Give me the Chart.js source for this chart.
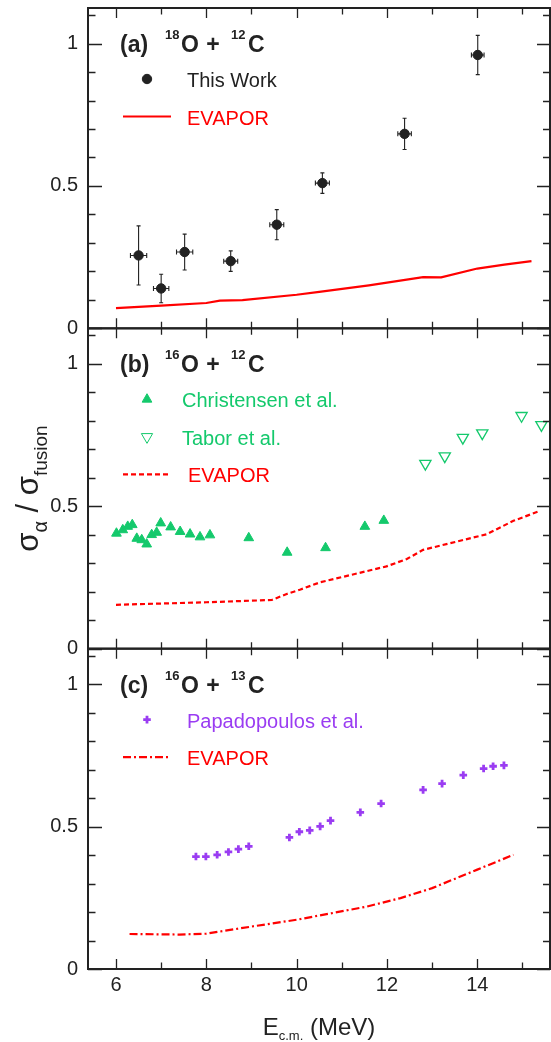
<!DOCTYPE html>
<html>
<head>
<meta charset="utf-8">
<title>alpha / fusion ratio</title>
<script src="https://cdn.jsdelivr.net/npm/chart.js@4.4.1/dist/chart.umd.min.js"></script>
<style>
  html, body { margin: 0; padding: 0; background: #fff; }
</style>
</head>
<body>
<canvas id="chart" width="551" height="1042"></canvas>
<script>
// ---- data ----
// (a) 18O + 12C, this work (with errors)
const aEnergy = [6.50, 7.00, 7.52, 8.54, 9.56, 10.57, 12.39, 14.01];
const aRatio  = [0.256, 0.140, 0.268, 0.236, 0.364, 0.510, 0.683, 0.960];
const aErrY   = [0.104, 0.050, 0.063, 0.036, 0.053, 0.036, 0.055, 0.069];
const aErrX   = [0.18, 0.17, 0.18, 0.155, 0.155, 0.155, 0.15, 0.14];
// (a) EVAPOR
const aCalcE = [6.0, 7.0, 8.0, 8.3, 8.8, 10.0, 10.5, 11.6, 12.8, 13.2, 14.0, 14.6, 15.2];
const aCalc  = [0.071, 0.080, 0.089, 0.097, 0.099, 0.118, 0.128, 0.151, 0.180, 0.179, 0.210, 0.224, 0.236];

// (b) 16O + 12C
const christE = [6.01, 6.15, 6.26, 6.36, 6.46, 6.57, 6.68, 6.79, 6.90, 6.99, 7.21, 7.42, 7.64, 7.86, 8.08, 8.94, 9.79, 10.64, 11.51, 11.93];
const christR = [0.405, 0.417, 0.429, 0.435, 0.387, 0.382, 0.367, 0.400, 0.408, 0.441, 0.427, 0.411, 0.402, 0.392, 0.399, 0.389, 0.338, 0.354, 0.429, 0.450];
const taborE = [12.85, 13.28, 13.68, 14.11, 14.98, 15.42];
const taborR = [0.650, 0.676, 0.741, 0.757, 0.818, 0.786];
const bCalcE = [6.0, 8.0, 9.45, 9.78, 10.07, 10.52, 11.99, 12.44, 12.80, 13.62, 14.21, 14.80, 15.39];
const bCalc  = [0.154, 0.163, 0.171, 0.192, 0.207, 0.233, 0.289, 0.315, 0.347, 0.379, 0.402, 0.449, 0.484];

// (c) 16O + 13C
const papaE = [7.77, 7.99, 8.24, 8.49, 8.71, 8.94, 9.84, 10.06, 10.29, 10.52, 10.75, 11.41, 11.87, 12.80, 13.22, 13.69, 14.14, 14.35, 14.59];
const papaR = [0.395, 0.395, 0.401, 0.411, 0.421, 0.431, 0.462, 0.482, 0.487, 0.501, 0.521, 0.550, 0.581, 0.629, 0.651, 0.681, 0.704, 0.712, 0.715];
const cCalcE = [6.3, 7.4, 8.0, 9.0, 10.0, 11.55, 12.3, 13.0, 14.0, 14.8];
const cCalc  = [0.123, 0.121, 0.124, 0.149, 0.173, 0.219, 0.249, 0.284, 0.349, 0.401];

// ticks
const xTickLabels = [6, 8, 10, 12, 14];
const xTickMarks = [6, 7, 8, 9, 10, 11, 12, 13, 14, 15];
const yTickLabels = [0, 0.5, 1];
const yTickMarks = [0, 0.1, 0.2, 0.3, 0.4, 0.5, 0.6, 0.7, 0.8, 0.9, 1.0, 1.1];

// ---- styles ----
const FONT = '"Liberation Sans", Arial, Helvetica, sans-serif';
const ink = '#222222';
const red = '#ff0000';
const green = '#14c96c';
const purple = '#9a3cf2';

const pts = (xs, ys) => xs.map((x, i) => ({ x: x, y: ys[i] }));

function yAxis(weight) {
  return {
    type: 'linear',
    position: 'left',
    stack: 'panels',
    stackWeight: 1,
    weight: weight,
    min: 0,
    max: 1.125,
    grid: { display: false, drawTicks: false },
    border: { display: false },
    afterBuildTicks: s => { s.ticks = yTickLabels.map(v => ({ value: v })); },
    afterFit: s => { s.width = 88; s.paddingTop = 0; s.paddingBottom = 0; },
    ticks: {
      color: ink,
      font: { family: FONT, size: 20 },
      padding: 10,
      callback: v => String(v)
    }
  };
}

// panel headings + in-panel legends
const panels = [
  { axis: 'yA', tag: '(a)', proj: '18', projEl: 'O', targ: '12', targEl: 'C',
    legend: [
      { kind: 'dot', label: 'This Work', color: ink, textColor: ink, textX: 99 },
      { kind: 'line', label: 'EVAPOR', color: red, textColor: red, dash: [], textX: 99 }
    ] },
  { axis: 'yB', tag: '(b)', proj: '16', projEl: 'O', targ: '12', targEl: 'C',
    legend: [
      { kind: 'tri', label: 'Christensen et al.', color: green, textColor: green, textX: 94 },
      { kind: 'tridown', label: 'Tabor et al.', color: green, textColor: green, textX: 94 },
      { kind: 'line', label: 'EVAPOR', color: red, textColor: red, dash: [5, 3], textX: 100 }
    ] },
  { axis: 'yC', tag: '(c)', proj: '16', projEl: 'O', targ: '13', targEl: 'C',
    legend: [
      { kind: 'cross', label: 'Papadopoulos et al.', color: purple, textColor: purple, textX: 99 },
      { kind: 'line', label: 'EVAPOR', color: red, textColor: red, dash: [8, 3, 2, 3], textX: 99 }
    ] }
];

const errorBars = {
  id: 'errorBars',
  beforeDatasetsDraw(chart) {
    const ctx = chart.ctx, xs = chart.scales.x, ys = chart.scales.yA;
    ctx.save();
    ctx.strokeStyle = ink;
    ctx.lineWidth = 1.1;
    aEnergy.forEach((e, i) => {
      const px = xs.getPixelForValue(e), py = ys.getPixelForValue(aRatio[i]);
      const y1 = ys.getPixelForValue(aRatio[i] + aErrY[i]), y2 = ys.getPixelForValue(aRatio[i] - aErrY[i]);
      const x1 = xs.getPixelForValue(e - aErrX[i]), x2 = xs.getPixelForValue(e + aErrX[i]);
      ctx.beginPath();
      ctx.moveTo(px, y1); ctx.lineTo(px, y2);
      ctx.moveTo(px - 2, y1); ctx.lineTo(px + 2, y1);
      ctx.moveTo(px - 2, y2); ctx.lineTo(px + 2, y2);
      ctx.moveTo(x1, py); ctx.lineTo(x2, py);
      ctx.moveTo(x1, py - 2.5); ctx.lineTo(x1, py + 2.5);
      ctx.moveTo(x2, py - 2.5); ctx.lineTo(x2, py + 2.5);
      ctx.stroke();
    });
    ctx.restore();
  }
};

const frames = {
  id: 'frames',
  afterDatasetsDraw(chart) {
    const ctx = chart.ctx, xs = chart.scales.x;
    const left = chart.chartArea.left, right = chart.chartArea.right;
    ctx.save();
    ctx.strokeStyle = ink;
    ['yA', 'yB', 'yC'].forEach(id => {
      const ys = chart.scales[id];
      const top = ys.top, bottom = ys.bottom;
      ctx.lineWidth = 1.3;
      ctx.beginPath();
      xTickMarks.forEach(v => {
        const px = Math.round(xs.getPixelForValue(v)) + 0.5;
        const len = v % 2 === 0 ? 10 : 6.5;
        ctx.moveTo(px, bottom); ctx.lineTo(px, bottom - len);
        ctx.moveTo(px, top); ctx.lineTo(px, top + len);
      });
      yTickMarks.forEach(v => {
        const py = Math.round(ys.getPixelForValue(v)) + 0.5;
        const major = Math.abs(v * 2 - Math.round(v * 2)) < 1e-6;
        ctx.moveTo(left, py); ctx.lineTo(left + (major ? 14 : 7.5), py);
        ctx.moveTo(right, py); ctx.lineTo(right - (major ? 13 : 7), py);
      });
      ctx.stroke();
      ctx.lineWidth = 2;
      ctx.strokeRect(left, top, right - left, bottom - top);
    });
    ctx.restore();
  }
};

function piecesWidth(ctx, pieces) {
  let w = 0;
  pieces.forEach(p => { ctx.font = p.font; w += ctx.measureText(p.t).width; });
  return w;
}

function marker(ctx, kind, color, x, y) {
  const h = Chart.helpers;
  ctx.save();
  ctx.fillStyle = color;
  ctx.strokeStyle = color;
  if (kind === 'dot') {
    h.drawPoint(ctx, { pointStyle: 'circle', radius: 4.7, borderWidth: 1 }, x, y);
  } else if (kind === 'tri') {
    h.drawPoint(ctx, { pointStyle: 'triangle', radius: 5.6, borderWidth: 1 }, x, y);
  } else if (kind === 'tridown') {
    ctx.fillStyle = '#ffffff';
    h.drawPoint(ctx, { pointStyle: 'triangle', radius: 6.5, rotation: 180, borderWidth: 1.3 }, x, y);
  } else if (kind === 'cross') {
    ctx.lineWidth = 2.8;
    h.drawPoint(ctx, { pointStyle: 'cross', radius: 3.8, borderWidth: 2.8 }, x, y);
  }
  ctx.restore();
}

const annotations = {
  id: 'annotations',
  afterDraw(chart) {
    const ctx = chart.ctx, ca = chart.chartArea;
    const left = ca.left;
    ctx.save();
    ctx.textBaseline = 'alphabetic';
    ctx.textAlign = 'left';

    panels.forEach(p => {
      const top = chart.scales[p.axis].top;
      // heading
      ctx.fillStyle = ink;
      const big = 'bold 23px ' + FONT, sup = 'bold 13px ' + FONT;
      const base = top + 44;
      ctx.font = big;
      ctx.fillText(p.tag, left + 32, base);
      ctx.font = sup;
      ctx.fillText(p.proj, left + 77, base - 13);
      ctx.font = big;
      ctx.fillText(p.projEl, left + 93, base);
      ctx.textAlign = 'center';
      ctx.fillText('+', left + 125, base);
      ctx.textAlign = 'left';
      ctx.font = sup;
      ctx.fillText(p.targ, left + 143, base - 13);
      ctx.font = big;
      ctx.fillText(p.targEl, left + 160, base);

      // legend
      p.legend.forEach((item, i) => {
        const my = top + 71 + i * 37.5;
        if (item.kind === 'line') {
          ctx.save();
          ctx.strokeStyle = item.color;
          ctx.lineWidth = 2.2;
          ctx.setLineDash(item.dash);
          ctx.beginPath();
          ctx.moveTo(left + 35, my); ctx.lineTo(left + 83, my);
          ctx.stroke();
          ctx.restore();
        } else {
          marker(ctx, item.kind, item.color, left + 59, my);
        }
        ctx.fillStyle = item.textColor;
        ctx.font = '20px ' + FONT;
        ctx.fillText(item.label, left + item.textX, my + 8);
      });
    });

    // y title: sigma_alpha / sigma_fusion
    ctx.fillStyle = ink;
    const yt = [
      { t: '\u03C3', font: '31px ' + FONT },
      { t: '\u03B1', font: '20px ' + FONT, dy: 9 },
      { t: ' / ', font: '31px ' + FONT },
      { t: '\u03C3', font: '31px ' + FONT },
      { t: 'fusion', font: '19px ' + FONT, dy: 9 }
    ];
    const cy = (ca.top + ca.bottom) / 2;
    ctx.save();
    ctx.translate(38, cy);
    ctx.rotate(-Math.PI / 2);
    let x = -piecesWidth(ctx, yt) / 2;
    yt.forEach(p => { ctx.font = p.font; ctx.fillText(p.t, x, p.dy || 0); x += ctx.measureText(p.t).width; });
    ctx.restore();

    // x title: E_c.m. (MeV)
    const xt = [
      { t: 'E', font: '24px ' + FONT },
      { t: 'c.m.', font: '13px ' + FONT, dy: 5 },
      { t: ' (MeV)', font: '24px ' + FONT }
    ];
    let xx = (ca.left + ca.right) / 2 - piecesWidth(ctx, xt) / 2;
    xt.forEach(p => { ctx.font = p.font; ctx.fillText(p.t, xx, 1035 + (p.dy || 0)); xx += ctx.measureText(p.t).width; });
    ctx.restore();
  }
};

new Chart(document.getElementById('chart').getContext('2d'), {
  type: 'scatter',
  data: {
    datasets: [
      { label: 'This Work', data: pts(aEnergy, aRatio), yAxisID: 'yA',
        pointStyle: 'circle', pointRadius: 4.7, backgroundColor: ink, borderColor: ink, borderWidth: 1 },
      { label: 'EVAPOR (a)', data: pts(aCalcE, aCalc), yAxisID: 'yA', showLine: true,
        borderColor: red, borderWidth: 2.2, pointRadius: 0, tension: 0 },
      { label: 'Christensen et al.', data: pts(christE, christR), yAxisID: 'yB',
        pointStyle: 'triangle', pointRadius: 5.6, backgroundColor: green, borderColor: green, borderWidth: 1 },
      { label: 'Tabor et al.', data: pts(taborE, taborR), yAxisID: 'yB',
        pointStyle: 'triangle', rotation: 180, pointRadius: 6.5, backgroundColor: '#ffffff', borderColor: green, borderWidth: 1.3 },
      { label: 'EVAPOR (b)', data: pts(bCalcE, bCalc), yAxisID: 'yB', showLine: true,
        borderColor: red, borderWidth: 2.2, borderDash: [5, 3], pointRadius: 0, tension: 0 },
      { label: 'Papadopoulos et al.', data: pts(papaE, papaR), yAxisID: 'yC',
        pointStyle: 'cross', pointRadius: 3.8, borderColor: purple, backgroundColor: purple, borderWidth: 2.8 },
      { label: 'EVAPOR (c)', data: pts(cCalcE, cCalc), yAxisID: 'yC', showLine: true,
        borderColor: red, borderWidth: 2.2, borderDash: [8, 3, 2, 3], pointRadius: 0, tension: 0 }
    ]
  },
  options: {
    responsive: false,
    devicePixelRatio: 1,
    animation: false,
    layout: { autoPadding: false, padding: { top: 8, right: 1, left: 0, bottom: 0 } },
    plugins: { legend: { display: false }, tooltip: { enabled: false } },
    scales: {
      x: {
        type: 'linear',
        position: 'bottom',
        min: 5.38,
        max: 15.61,
        grid: { display: false, drawTicks: false },
        border: { display: false },
        afterBuildTicks: s => { s.ticks = xTickLabels.map(v => ({ value: v })); },
        afterFit: s => { s.height = 73; s.paddingLeft = 0; s.paddingRight = 0; },
        ticks: { color: ink, font: { family: FONT, size: 20 }, padding: 4, maxRotation: 0, autoSkip: false }
      },
      yC: yAxis(1),
      yB: yAxis(2),
      yA: yAxis(3)
    }
  },
  plugins: [errorBars, frames, annotations]
});
</script>
</body>
</html>
